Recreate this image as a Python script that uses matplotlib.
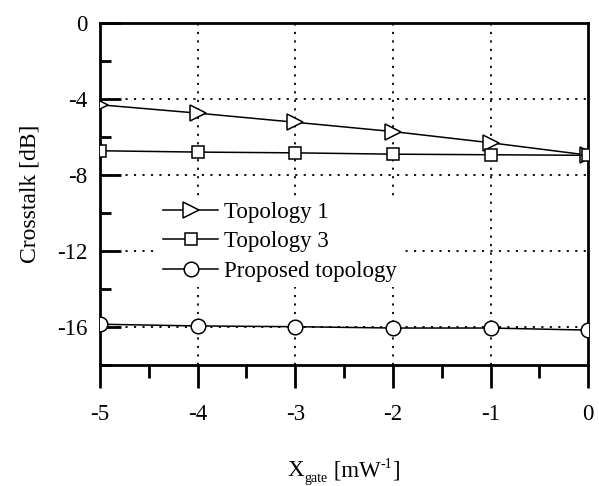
import matplotlib
matplotlib.use("Agg")
import matplotlib.pyplot as plt
from matplotlib.ticker import MultipleLocator

x_gate = [-5, -4, -3, -2, -1, 0]
topology1 = [-4.32, -4.76, -5.24, -5.73, -6.32, -6.97]
topology3 = [-6.74, -6.81, -6.85, -6.92, -6.95, -6.98]
proposed = [-15.87, -15.96, -16.00, -16.07, -16.07, -16.18]
labels = ["Topology 1", "Topology 3", "Proposed topology"]

plt.rcParams['font.family'] = ['Liberation Serif', 'DejaVu Serif']

fig = plt.figure(figsize=(5.99, 4.86), dpi=100)
ax = fig.add_axes([0.167, 0.2496, 0.815, 0.7037])

common = dict(color='black', linewidth=1.1, markerfacecolor='white',
              markeredgecolor='black', markeredgewidth=1.1)
ax.plot(x_gate, topology1, marker='>', markersize=11.5, label=labels[0], zorder=3, **common)
ax.plot(x_gate, topology3, marker='s', markersize=9.0, label=labels[1], zorder=3, **common)
ax.plot(x_gate, proposed, marker='o', markersize=10.5, label=labels[2], zorder=3, **common)

ax.set_xlim(-5, 0)
ax.set_ylim(-18, 0)
ax.xaxis.set_major_locator(MultipleLocator(1))
ax.xaxis.set_minor_locator(MultipleLocator(0.5))
ax.yaxis.set_major_locator(MultipleLocator(4))
ax.yaxis.set_minor_locator(MultipleLocator(2))

for xv in [-4, -3, -2, -1]:
    ax.axvline(xv, color='black', linewidth=1.3, linestyle=(0, (1.2, 3.5)), zorder=1)
for yv in [-4, -8, -12, -16]:
    ax.axhline(yv, color='black', linewidth=1.3, linestyle=(0, (1.2, 3.5)), zorder=1)

ax.tick_params(axis='x', which='major', direction='out', length=16.5, width=2, pad=12, labelsize=16.5)
ax.tick_params(axis='x', which='minor', direction='out', length=9.5, width=2)
ax.tick_params(axis='y', which='major', direction='in', length=15, width=2, pad=9, labelsize=16.5)
ax.tick_params(axis='y', which='minor', direction='in', length=8, width=2)
ax.set_yticks([0, -4, -8, -12, -16])
ax.set_yticklabels(["0", "-4", "-8", "-12", "-16"])
ax.set_xticks(x_gate)
ax.set_xticklabels(["-5", "-4", "-3", "-2", "-1", "0"])

for s in ax.spines.values():
    s.set_linewidth(2)

ax.set_ylabel("Crosstalk [dB]", fontsize=17, labelpad=12)

# x label built from pieces: X, subscript "gate", " [mW", superscript "-1", "]"
renderer = fig.canvas.get_renderer()
W, H = fig.bbox.width, fig.bbox.height
x_px = 288.0
base_px = 486 - 476.0
pieces = [("X", 16.5, 0), ("gate", 10, -6), (" [mW", 16.5, 0), ("-1", 10, 8), ("]", 16.5, 0)]
for txt, size, dy in pieces:
    t = fig.text(x_px / W, (base_px + dy) / H, txt, fontsize=size, ha='left', va='baseline')
    x_px += t.get_window_extent(renderer).width

leg = ax.legend(loc='upper left', bbox_to_anchor=(0.12, 0.49), fontsize=16.5, numpoints=1,
                handlelength=2.4, handletextpad=0.25, labelspacing=0.38, borderpad=0.2,
                frameon=True, fancybox=False, borderaxespad=0)
leg.get_frame().set_edgecolor('none')
leg.get_frame().set_facecolor('white')
leg.get_frame().set_alpha(1)
leg.set_zorder(2)

fig.savefig("out.png", dpi=100)
